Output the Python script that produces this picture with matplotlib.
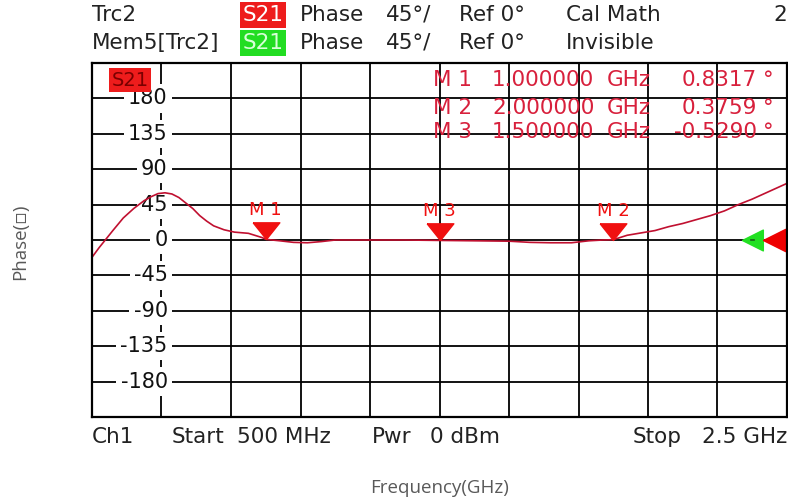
import numpy as np
import matplotlib
matplotlib.use("Agg")
import matplotlib.pyplot as plt
from matplotlib.transforms import blended_transform_factory

# S21 phase trace, 500 MHz .. 2.5 GHz
freq_ghz = [0.50, 0.52, 0.54, 0.56, 0.59, 0.62, 0.65, 0.67, 0.69, 0.71,
            0.73, 0.75, 0.77, 0.79, 0.81, 0.83, 0.85, 0.88, 0.91, 0.95,
            0.99, 1.00, 1.04, 1.08, 1.12, 1.16, 1.20, 1.30, 1.40, 1.50,
            1.60, 1.70, 1.76, 1.82, 1.88, 1.93, 1.97, 2.00, 2.04, 2.08,
            2.12, 2.16, 2.20, 2.24, 2.28, 2.32, 2.36, 2.40, 2.44, 2.48, 2.50]
phase_deg = [-22, -10, 1, 12, 28, 40, 50, 55, 59, 60,
             58.5, 54, 47, 40, 31, 24, 18, 13, 10, 8.5,
             3, 0.83, -1, -3, -3.5, -2, 0, 0, 0, -0.53,
             -1, -1.5, -3, -3.5, -3.5, -1, 0, 0.38, 6, 9,
             12, 17, 21, 26, 31, 37, 45, 52, 60, 68, 72]

# markers
marker_names = ["M 1", "M 2", "M 3"]
marker_freq = [1.0, 2.0, 1.5]
marker_phase = [0.8317, 0.3759, -0.5290]

y_ticks = [180, 135, 90, 45, 0, -45, -90, -135, -180]
x_grid = [0.9, 1.1, 1.3, 1.5, 1.7, 1.9, 2.1, 2.3]

TRACE = "#c01030"
MRED = "#f01010"
INFO = "#d8203c"
FONT = "DejaVu Sans"
FS = 15.5

W, H = 788, 504
fig = plt.figure(figsize=(W / 100, H / 100), dpi=100)
fig.patch.set_facecolor("white")


def px(x, y):
    return x / W, 1 - y / H


ax = fig.add_axes([92 / W, 1 - 417 / H, 695 / W, 354 / H])
ax.set_xlim(0.5, 2.5)
ax.set_ylim(-225, 225)
ax.set_xticks([])
ax.set_yticks([])
for s in ax.spines.values():
    s.set_linewidth(1.6)
    s.set_color("black")
    s.set_zorder(6)

# graticule
for f in x_grid:
    ax.axvline(f, color="black", lw=1.3, zorder=1)
for v in y_ticks:
    ax.axhline(v, color="black", lw=1.3, zorder=1)
ax.axvline(0.7, color="black", lw=1.3, zorder=1)

# scale labels sit on the 0.7 GHz column
for v in y_ticks:
    ax.annotate(str(v), (0.7, v), xytext=(4.5, 0), textcoords="offset points",
                ha="right", va="center", fontsize=15, family=FONT, color="#111111",
                bbox=dict(boxstyle="square,pad=0.2", fc="white", ec="none"), zorder=2)

# trace
ax.plot(freq_ghz, phase_deg, color=TRACE, lw=1.2, zorder=3)

# marker triangles, apex on the trace
tri_down = [(-0.8, 1.0), (0.8, 1.0), (0.0, 0.0), (-0.8, 1.0)]
for name, f, p in zip(marker_names, marker_freq, marker_phase):
    ax.plot(f, p, marker=tri_down, ms=24, color=MRED, mec=MRED, ls="none", zorder=4)
    ax.annotate(name, (f, p), xytext=(0, 21), textcoords="offset points",
                ha="center", va="center", fontsize=13, family=FONT, color=MRED, zorder=4)

# marker readout
for i, (name, f, p) in enumerate(zip(marker_names, marker_freq, marker_phase)):
    yy = [80, 108, 132][i]
    fig.text(*px(433, yy), name, ha="left", va="center", fontsize=FS, family=FONT, color=INFO, zorder=7)
    fig.text(*px(492, yy), f"{f:.6f}", ha="left", va="center", fontsize=FS, family=FONT, color=INFO, zorder=7)
    fig.text(*px(651, yy), "GHz", ha="right", va="center", fontsize=FS, family=FONT, color=INFO, zorder=7)
    fig.text(*px(757, yy), f"{p:.4f}", ha="right", va="center", fontsize=FS, family=FONT, color=INFO, zorder=7)
    fig.text(*px(763, yy), "°", ha="left", va="center", fontsize=FS, family=FONT, color=INFO, zorder=7)

# trace label box in the corner
fig.text(*px(130, 80), "S21", ha="center", va="center", fontsize=14, family=FONT, color="#7a0000",
         bbox=dict(boxstyle="square,pad=0.12", fc="#ee1c1c", ec="none"), zorder=7)

# reference level arrows on the right edge
tr = blended_transform_factory(ax.transAxes, ax.transData)
tri_left = [(0.0, 0.0), (1.0, 0.5), (1.0, -0.5), (0.0, 0.0)]
ax.plot(0.935, 0, marker=tri_left, ms=30, color="#22e022", mec="#22e022", transform=tr, zorder=5)
ax.plot(0.9655, 0, marker=tri_left, ms=32, color="#ee0000", mec="#ee0000", transform=tr, zorder=5)
ax.plot([0.948, 0.953], [0, 0], color="#1a5a1a", lw=1.2, transform=tr, zorder=5)

# header lines
hdr = dict(ha="left", va="center", fontsize=FS, family=FONT, color="#222222")
fig.text(*px(92, 15), "Trc2", **hdr)
fig.text(*px(92, 43), "Mem5[Trc2]", **hdr)
fig.text(*px(263, 15), "S21", ha="center", va="center", fontsize=FS, family=FONT, color="white",
         bbox=dict(boxstyle="square,pad=0.12", fc="#ee1c1c", ec="none"))
fig.text(*px(263, 43), "S21", ha="center", va="center", fontsize=FS, family=FONT, color="#d8ffd8",
         bbox=dict(boxstyle="square,pad=0.12", fc="#22dd22", ec="none"))
for yy in (15, 43):
    fig.text(*px(300, yy), "Phase", **hdr)
    fig.text(*px(386, yy), "45°/", **hdr)
    fig.text(*px(459, yy), "Ref 0°", **hdr)
fig.text(*px(566, 15), "Cal Math", **hdr)
fig.text(*px(566, 43), "Invisible", **hdr)
fig.text(*px(787, 15), "2", ha="right", va="center", fontsize=FS, family=FONT, color="#222222")

# footer line
fig.text(*px(92, 437), "Ch1", **hdr)
fig.text(*px(172, 437), "Start", **hdr)
fig.text(*px(237, 437), "500 MHz", **hdr)
fig.text(*px(372, 437), "Pwr", **hdr)
fig.text(*px(430, 437), "0 dBm", **hdr)
fig.text(*px(633, 437), "Stop", **hdr)
fig.text(*px(787, 437), "2.5 GHz", ha="right", va="center", fontsize=FS, family=FONT, color="#222222")

# axis titles
fig.text(*px(20, 242), "Phase(▫)", rotation=90, ha="center", va="center",
         fontsize=13.5, family=["Open Sans", "DejaVu Sans"], color="#595959")
fig.text(*px(440, 488), "Frequency(GHz)", ha="center", va="center",
         fontsize=13.5, family="Open Sans", color="#595959")

fig.savefig("out.png", dpi=100, facecolor="white")
